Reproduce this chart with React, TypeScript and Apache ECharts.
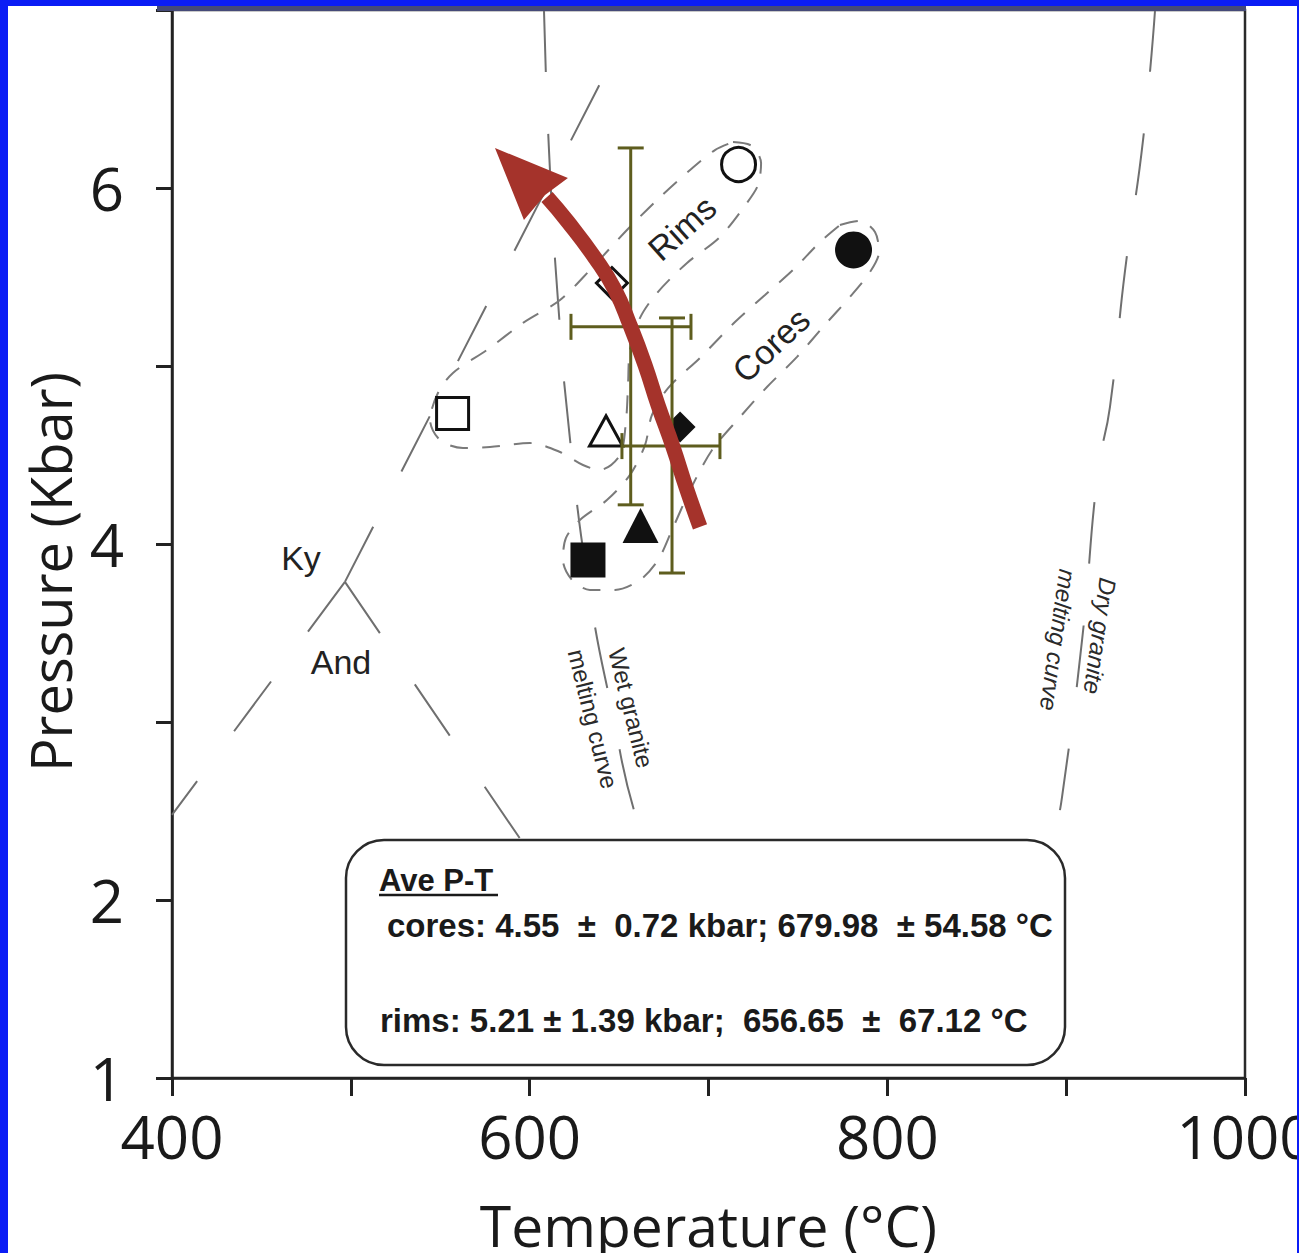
import React, { useEffect, useRef } from 'react';
import * as echarts from 'echarts';

// ---------- data (T in °C, P in kbar) ----------
const xLabelTicks = [400, 600, 800, 1000];
const yLabelTicks = [1, 2, 4, 6];

const kyAndLine = [[496.7, 3.787], [400, 2.478]];
const kySilLine = [[496.7, 3.787], [653.3, 6.86]];
const andSilLine = [[496.7, 3.787], [605.8, 2.18]];

const wetGraniteCurve = [
  [608.0, 7.0], [610.8, 6.213], [615.8, 5.371], [622.6, 4.584], [633.7, 3.713],
  [646.0, 3.067], [660.0, 2.449], [686.9, 1.719], [717.6, 1.0],
];
const dryGraniteCurve = [
  [949.7, 7.0], [943.0, 6.27], [932.9, 5.534], [924.5, 4.77], [917.8, 4.41],
  [908.9, 3.461], [897.7, 2.579], [893.8, 2.354], [885.4, 1.719], [876.5, 1.0],
];

const rimsEnvelope = [
  [713.7, 6.258], [724.3, 6.236], [729.4, 6.14], [727.7, 6.017], [721.5, 5.916],
  [706.4, 5.725], [688.0, 5.579], [671.2, 5.41], [661.7, 5.27], [656.1, 5.09],
  [655.0, 4.893], [653.9, 4.697], [650.5, 4.5], [639.3, 4.416], [629.8, 4.444],
  [617.0, 4.517], [600.2, 4.567], [577.8, 4.545], [562.7, 4.539], [549.9, 4.584],
  [544.3, 4.697], [548.7, 4.848], [557.1, 4.961], [576.1, 5.09], [596.3, 5.242],
  [617.0, 5.371], [633.7, 5.539], [654.4, 5.764], [672.9, 5.949], [689.7, 6.101],
  [703.6, 6.213], [713.7, 6.258],
];
const coresEnvelope = [
  [773.5, 5.792], [784.7, 5.815], [793.1, 5.753], [795.3, 5.64], [790.3, 5.528],
  [779.1, 5.388], [764.0, 5.219], [749.5, 5.051], [732.7, 4.882], [717.6, 4.713],
  [702.0, 4.528], [689.7, 4.303], [679.6, 4.079], [671.8, 3.91], [661.7, 3.798],
  [647.7, 3.742], [633.7, 3.742], [623.7, 3.798], [618.6, 3.91], [620.3, 4.034],
  [628.1, 4.135], [643.2, 4.247], [656.1, 4.388], [664.5, 4.556], [668.4, 4.725],
  [677.4, 4.876], [695.2, 5.045], [714.8, 5.247], [731.6, 5.399], [748.4, 5.551],
  [762.4, 5.697], [773.5, 5.792],
];

const markerSymbols = ['circle', 'diamond', 'rect', 'triangle'];
const rimsT = [716.8, 646.0, 556.9, 642.7];
const rimsP = [6.132, 5.466, 4.733, 4.635];
const coresT = [781.1, 684.1, 632.6, 662.0];
const coresP = [5.652, 4.657, 3.91, 4.104];
const coresSymbols = ['circle', 'diamond', 'rect', 'triangle'];

// [T, P, Tlow, Thigh, Plow, Phigh]
const rimsErrorBar = [656.5, 5.22, 623.1, 690.2, 4.22, 6.225];
const coresErrorBar = [679.6, 4.55, 651.6, 706.4, 3.837, 5.27];

const pathShaft = [
  [695.25, 4.096], [687.42, 4.32], [680.15, 4.545], [671.76, 4.781], [664.49, 5.006],
  [656.1, 5.23], [647.72, 5.427], [636.53, 5.607], [621.44, 5.809], [609.7, 5.949],
];
const pathHead = [[580.6, 6.225], [621.4, 6.056], [608.6, 5.96], [596.8, 5.82]];

// ---------- styles ----------
const gray = '#6f6f6f';
const ink = '#1a1a1a';
const red = '#a5332b';
const olive = '#5e5d1e';
const blue = '#0b1df5';
const axisFont = 'Open Sans';
const boxFont = '"Liberation Sans", Arial, sans-serif';

const openSizes: any[] = [34, 31, 32, [33, 30]];
const filledSizes: any[] = [37, 31, 35, [36, 35]];

function phaseLine(data: number[][], smooth = false) {
  return {
    type: 'line', data, smooth, symbol: 'none', showSymbol: false, silent: true, z: 2,
    lineStyle: { color: gray, width: 2, type: [62, 62] },
  };
}
function envelope(data: number[][]) {
  return {
    type: 'line', data, smooth: 0.3, symbol: 'none', showSymbol: false, silent: true, z: 2,
    lineStyle: { color: '#7a7a7a', width: 2, type: [18, 14] },
  };
}

export default function App() {
  const ref = useRef<HTMLDivElement>(null);
  useEffect(() => {
    const chart = echarts.init(ref.current!, null, { renderer: 'svg', width: 1299, height: 1253 });
    const deg = Math.PI / 180;
    const option: any = {
      animation: false,
      backgroundColor: '#ffffff',
      grid: {
        left: 172, top: 10, width: 1073, height: 1068, show: true,
        borderColor: '#2a2a2a', borderWidth: 2.5, backgroundColor: 'transparent',
        containLabel: false, outerBoundsMode: 'none',
      },
      xAxis: {
        type: 'value', min: 400, max: 1000, interval: 100,
        name: 'Temperature (°C)', nameLocation: 'middle', nameGap: 118, nameMoveOverlap: false,
        nameTextStyle: { fontFamily: axisFont, fontSize: 57, color: ink },
        axisLine: { show: true, onZero: false, lineStyle: { color: '#222', width: 2.5 } },
        axisTick: { show: true, length: 18, lineStyle: { color: '#222', width: 3 } },
        axisLabel: {
          margin: 28, fontFamily: axisFont, fontSize: 60, color: ink,
          showMinLabel: true, showMaxLabel: true, hideOverlap: false,
          formatter: (v: number) => (xLabelTicks.includes(v) ? String(v) : ''),
        },
        splitLine: { show: false },
      },
      yAxis: {
        type: 'value', min: 1, max: 7, interval: 1,
        name: 'Pressure (Kbar)', nameLocation: 'middle', nameGap: 94, nameRotate: 90, nameMoveOverlap: false,
        nameTextStyle: { fontFamily: axisFont, fontSize: 56, color: ink, padding: [0, 56, 0, 0] },
        axisLine: { show: true, onZero: false, lineStyle: { color: '#222', width: 2.5 } },
        axisTick: { show: true, length: 16, lineStyle: { color: '#222', width: 3 } },
        axisLabel: {
          margin: 48, fontFamily: axisFont, fontSize: 60, color: ink,
          showMinLabel: true, showMaxLabel: true, hideOverlap: false,
          formatter: (v: number) => (yLabelTicks.includes(v) ? String(v) : ''),
        },
        splitLine: { show: false },
      },
      series: [
        phaseLine(kyAndLine),
        phaseLine(kySilLine),
        phaseLine(andSilLine),
        phaseLine(wetGraniteCurve, true),
        phaseLine(dryGraniteCurve, true),
        envelope(rimsEnvelope),
        envelope(coresEnvelope),
        {
          type: 'scatter', silent: true, z: 3,
          data: rimsT.map((t, i) => ({
            value: [t, rimsP[i]], symbol: markerSymbols[i], symbolSize: openSizes[i],
          })),
          itemStyle: { color: '#ffffff', borderColor: '#111', borderWidth: 3, opacity: 1 },
        },
        {
          type: 'scatter', silent: true, z: 3,
          data: coresT.map((t, i) => ({
            value: [t, coresP[i]], symbol: coresSymbols[i],
            symbolSize: filledSizes[markerSymbols.indexOf(coresSymbols[i])],
          })),
          itemStyle: { color: '#111', borderWidth: 0, opacity: 1 },
        },
        {
          type: 'custom', silent: true, z: 4,
          encode: { x: 0, y: 1 },
          data: [rimsErrorBar, coresErrorBar],
          renderItem: (_p: any, api: any) => {
            const t = api.value(0), p = api.value(1);
            const l = api.coord([api.value(2), p]);
            const r = api.coord([api.value(3), p]);
            const b = api.coord([t, api.value(4)]);
            const tp = api.coord([t, api.value(5)]);
            const cap = 13;
            const style = { stroke: olive, lineWidth: 3, fill: 'none' };
            const ln = (x1: number, y1: number, x2: number, y2: number) => ({
              type: 'line', shape: { x1, y1, x2, y2 }, style,
            });
            return {
              type: 'group',
              children: [
                ln(l[0], l[1], r[0], r[1]),
                ln(tp[0], tp[1], b[0], b[1]),
                ln(l[0], l[1] - cap, l[0], l[1] + cap),
                ln(r[0], r[1] - cap, r[0], r[1] + cap),
                ln(tp[0] - cap, tp[1], tp[0] + cap, tp[1]),
                ln(b[0] - cap, b[1], b[0] + cap, b[1]),
              ],
            };
          },
        },
        {
          type: 'line', data: pathShaft, smooth: 0.5, symbol: 'none', showSymbol: false,
          silent: true, z: 5,
          lineStyle: { color: red, width: 15, cap: 'butt' },
        },
        {
          type: 'custom', silent: true, z: 6,
          encode: { x: 0, y: 1 },
          data: [pathHead.flat()],
          renderItem: (_p: any, api: any) => {
            const pts: number[][] = [];
            for (let i = 0; i < pathHead.length; i++) {
              pts.push(api.coord([api.value(2 * i), api.value(2 * i + 1)]));
            }
            return { type: 'polygon', shape: { points: pts }, style: { fill: red } };
          },
        },
      ],
      graphic: [
        // blue frame of the picture
        { type: 'rect', z: 200, shape: { x: 0, y: 0, width: 8, height: 1253 }, style: { fill: blue } },
        { type: 'rect', z: 200, shape: { x: 0, y: 0, width: 1299, height: 6 }, style: { fill: blue } },
        { type: 'rect', z: 200, shape: { x: 1297, y: 0, width: 2, height: 1253 }, style: { fill: blue } },
        { type: 'rect', z: 199, shape: { x: 157, y: 6, width: 1089, height: 5 }, style: { fill: '#454a78' } },
        // field labels
        { type: 'text', z: 50, x: 301, y: 558, style: { text: 'Ky', fontSize: 34, fontFamily: boxFont, fill: '#222', align: 'center', verticalAlign: 'middle' } },
        { type: 'text', z: 50, x: 341, y: 662, style: { text: 'And', fontSize: 34, fontFamily: boxFont, fill: '#222', align: 'center', verticalAlign: 'middle' } },
        { type: 'text', z: 50, x: 682, y: 228, rotation: 42 * deg, style: { text: 'Rims', fontSize: 34, fontFamily: boxFont, fill: '#222', align: 'center', verticalAlign: 'middle' } },
        { type: 'text', z: 50, x: 771, y: 345, rotation: 43 * deg, style: { text: 'Cores', fontSize: 34, fontFamily: boxFont, fill: '#222', align: 'center', verticalAlign: 'middle' } },
        { type: 'text', z: 50, x: 631, y: 708, rotation: -76 * deg, style: { text: 'Wet granite', fontSize: 24, fontFamily: boxFont, fill: '#2a2a2a', align: 'center', verticalAlign: 'middle' } },
        { type: 'text', z: 50, x: 593, y: 719, rotation: -76 * deg, style: { text: 'melting curve', fontSize: 24, fontFamily: boxFont, fill: '#2a2a2a', align: 'center', verticalAlign: 'middle' } },
        { type: 'text', z: 50, x: 1100, y: 636, rotation: -98 * deg, style: { text: 'Dry granite', fontSize: 24, fontStyle: 'italic', fontFamily: boxFont, fill: '#2a2a2a', align: 'center', verticalAlign: 'middle' } },
        { type: 'text', z: 50, x: 1058, y: 640, rotation: -98 * deg, style: { text: 'melting curve', fontSize: 24, fontStyle: 'italic', fontFamily: boxFont, fill: '#2a2a2a', align: 'center', verticalAlign: 'middle' } },
        // result box
        { type: 'rect', z: 100, shape: { x: 346, y: 840, width: 719, height: 225, r: 38 }, style: { fill: '#ffffff', stroke: '#2a2a2a', lineWidth: 2.5 } },
        { type: 'text', z: 101, x: 379, y: 880, style: { text: 'Ave P-T', fontSize: 31, fontWeight: 'bold', fontFamily: boxFont, fill: ink, align: 'left', verticalAlign: 'middle' } },
        { type: 'line', z: 101, shape: { x1: 379, y1: 895, x2: 498, y2: 895 }, style: { stroke: ink, lineWidth: 2.5 } },
        { type: 'text', z: 101, x: 387, y: 925, style: { text: 'cores: 4.55  ±  0.72 kbar; 679.98  ± 54.58 °C', fontSize: 33, fontWeight: 'bold', fontFamily: boxFont, fill: ink, align: 'left', verticalAlign: 'middle' } },
        { type: 'text', z: 101, x: 380, y: 1020, style: { text: 'rims: 5.21 ± 1.39 kbar;  656.65  ±  67.12 °C', fontSize: 33, fontWeight: 'bold', fontFamily: boxFont, fill: ink, align: 'left', verticalAlign: 'middle' } },
      ],
    };
    chart.setOption(option);
    return () => chart.dispose();
  }, []);
  return (
    <div
      ref={ref}
      style={{ position: 'fixed', left: 0, top: 0, width: 1299, height: 1253, background: '#fff' }}
    />
  );
}
